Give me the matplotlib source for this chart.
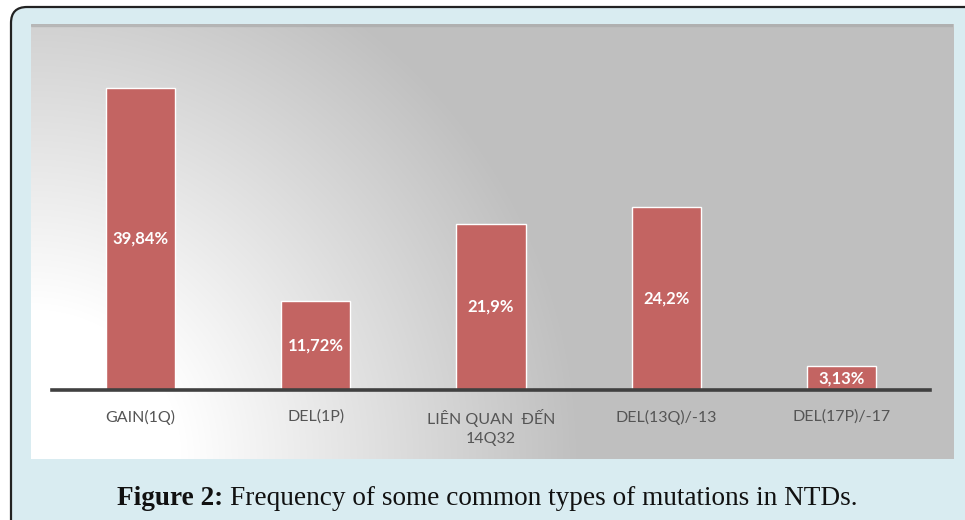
import numpy as np
import matplotlib
matplotlib.use("Agg")
import matplotlib.pyplot as plt
from matplotlib.patches import FancyBboxPatch, Rectangle

categories = ["GAIN(1Q)", "DEL(1P)", "LIÊN QUAN  ĐẾN\n14Q32", "DEL(13Q)/-13", "DEL(17P)/-17"]
values = [39.84, 11.72, 21.9, 24.2, 3.13]
value_labels = ["39,84%", "11,72%", "21,9%", "24,2%", "3,13%"]
caption_bold = "Figure 2:"
caption_rest = "Frequency of some common types of mutations in NTDs."

W, H = 965, 520
fig = plt.figure(figsize=(W / 100, H / 100), dpi=100, facecolor="white")

# outer rounded frame (pixel coords)
frame = FancyBboxPatch((11, -40), 1100, 513 + 40, boxstyle="round,pad=0,rounding_size=16",
                       transform=None, facecolor="#d9ecf1", edgecolor="#222222", linewidth=1.6,
                       zorder=-10)
fig.patches.append(frame)

# gradient panel
px0, px1, py0, py1 = 31, 953, 24, 459
bg = fig.add_axes([px0 / W, 1 - py1 / H, (px1 - px0) / W, (py1 - py0) / H])
bg.set_axis_off()
nx, ny = px1 - px0, py1 - py0
xx, yy = np.meshgrid(np.arange(nx), np.arange(ny))
d = np.hypot(xx, (ny - yy))
t = np.clip((d - 150.0) / 400.0, 0, 1)
val = 255 - (255 - 191) * t
img = np.dstack([val, val, val]) / 255.0
bg.imshow(img, aspect="auto", extent=[0, 1, 0, 1], origin="upper")
bg.set_xlim(0, 1)
bg.set_ylim(0, 1)
bg.add_patch(Rectangle((0, 1 - 2 / ny), 1, 2 / ny, color="#a8a8a8", alpha=0.5,
                       transform=bg.transAxes))

# main axes
ax_left, ax_right, ax_base, ax_top = 52, 930, 390, 30
ax = fig.add_axes([ax_left / W, 1 - ax_base / H, (ax_right - ax_left) / W, (ax_base - ax_top) / H])
ax.patch.set_alpha(0)
ppu = 7.58
ax.set_ylim(0, (ax_base - ax_top) / ppu)
x = np.arange(len(categories))
ax.set_xlim(-0.505, len(categories) - 0.495)
bars = ax.bar(x, values, width=0.395, color="#c36462", edgecolor="white", linewidth=1.0, zorder=2)
for xi, v, lab in zip(x, values, value_labels):
    ax.text(xi, v / 2, lab, ha="center", va="center", color="white", fontsize=12,
            fontweight="bold", family=["Lato", "DejaVu Sans"], zorder=3)

for s in ["top", "right", "left"]:
    ax.spines[s].set_visible(False)
ax.spines["bottom"].set_color("#404040")
ax.spines["bottom"].set_linewidth(2.6)
ax.set_yticks([])
ax.set_xticks(x)
ax.set_xticklabels(categories, family=["Lato", "DejaVu Sans"], fontsize=11.5, color="#555555",
                   linespacing=1.45, va="top")
ax.tick_params(axis="x", length=0, pad=14)

# caption
r = fig.canvas.get_renderer()
t1 = fig.text(117 / W, 1 - 505 / H, caption_bold, fontsize=17, fontweight="bold",
              family="Liberation Serif", va="baseline", ha="left", color="#111111")
bb1 = t1.get_window_extent(r)
t2 = fig.text((bb1.x1 + 6) / W, 1 - 505 / H, caption_rest, fontsize=17,
              family="Liberation Serif", va="baseline", ha="left", color="#111111")
bb2 = t2.get_window_extent(r)
total = bb2.x1 - 117
scale = 741 / total
fs = 17 * scale
t1.set_fontsize(fs)
bb1 = t1.get_window_extent(r)
t2.set_fontsize(fs)
t2.set_x((bb1.x1 + 6 * scale) / W)

fig.savefig("out.png", dpi=100, facecolor="white")
